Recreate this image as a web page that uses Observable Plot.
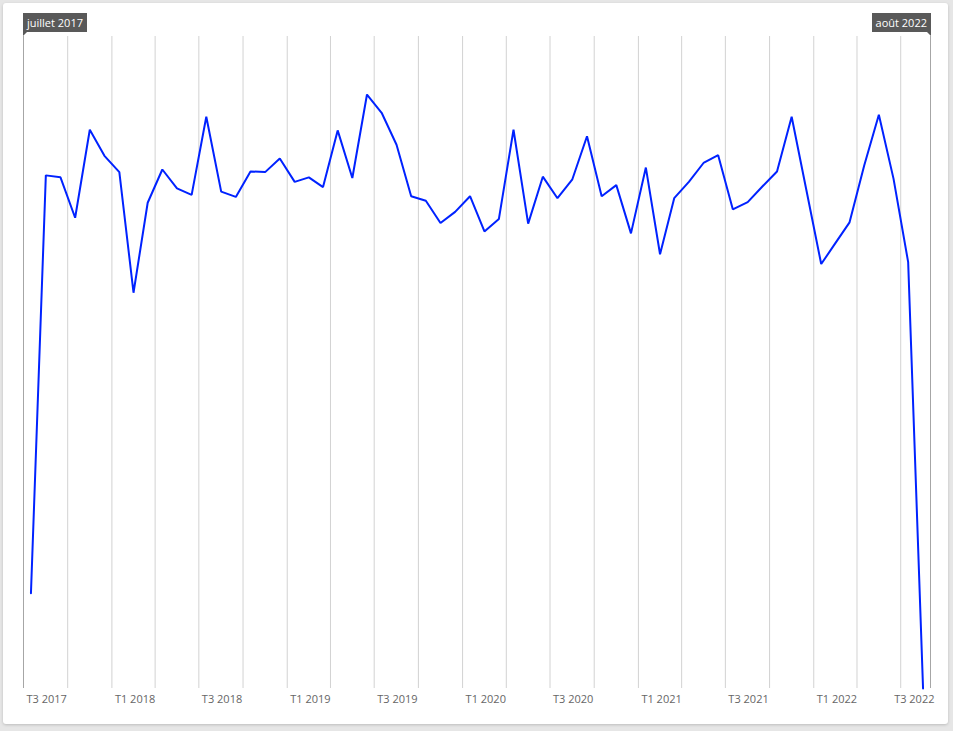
<!DOCTYPE html>
<html><head><meta charset="utf-8">
<script src="https://cdn.jsdelivr.net/npm/d3@7"></script>
<script src="https://cdn.jsdelivr.net/npm/@observablehq/plot@0.6"></script>
<style>
html,body{margin:0;padding:0;background:#e6e6e6;width:953px;height:731px;overflow:hidden;font-family:"Open Sans",sans-serif}
#card{position:absolute;left:3px;top:3px;width:945px;height:721px;background:#fff;border-radius:3px;box-shadow:0 1px 3px rgba(0,0,0,0.18)}
#chart{position:absolute;left:0;top:0}
.badge{position:absolute;top:13px;height:19px;line-height:19px;padding:0 4px;background:#595959;color:#fff;font-size:11px;white-space:nowrap}
.badge::after{content:"";position:absolute;top:19px;width:0;height:0;border-top:4px solid #595959}
.badge.left::after{left:0;border-right:4px solid transparent}
.badge.right::after{right:0;border-left:4px solid transparent}
</style>
</head><body>
<div id="card"></div>
<div id="chart"></div>
<script>
// Monthly series, July 2017 – August 2022
const startMonth = "2017-07-01";
const endMonth = "2022-09-01"; // exclusive end of domain
const values = [
  14.6, 78.7, 78.4, 72.2, 85.7, 81.7,
  79.2, 60.7, 74.5, 79.6, 76.7, 75.7,
  87.7, 76.2, 75.4, 79.3, 79.2, 81.3,
  77.7, 78.4, 76.9, 85.6, 78.3, 91.1,
  88.3, 83.4, 75.5, 74.8, 71.4, 73.1,
  75.5, 70.1, 72.0, 85.7, 71.3, 78.5,
  75.2, 78.1, 84.7, 75.5, 77.2, 69.8,
  79.9, 66.6, 75.2, 77.7, 80.6, 81.8,
  73.5, 74.6, 77.0, 79.3, 87.7, 76.5,
  65.1, 68.3, 71.5, 80.2, 88.0, 78.2,
  65.4, 0
];
const tickDates = ["2017-07-01","2018-01-01","2018-07-01","2019-01-01","2019-07-01","2020-01-01","2020-07-01","2021-01-01","2021-07-01","2022-01-01","2022-07-01"];
const tickLabels = ["T3 2017","T1 2018","T3 2018","T1 2019","T3 2019","T1 2020","T3 2020","T1 2021","T3 2021","T1 2022","T3 2022"];
const startLabel = "juillet 2017";
const endLabel = "août 2022";

const start = new Date(startMonth + "T00:00:00Z");
const end = new Date(endMonth + "T00:00:00Z");
const months = d3.utcMonth.range(start, end);
const data = months.map((m, i) => ({
  date: new Date((+m + +d3.utcMonth.offset(m, 1)) / 2),
  value: values[i]
}));
const quarters = d3.utcMonth.every(3).range(start, end).filter(d => +d > +start);
const ticks = tickDates.map((d, i) => ({date: new Date(d + "T00:00:00Z"), label: tickLabels[i]}));

const plot = Plot.plot({
  width: 953,
  height: 731,
  marginLeft: 23,
  marginRight: 23,
  marginTop: 36,
  marginBottom: 43,
  style: {background: "transparent", fontFamily: "'Open Sans', sans-serif"},
  x: {type: "utc", domain: [start, end], axis: null},
  y: {domain: [0, 100], axis: null},
  marks: [
    Plot.ruleX(quarters, {stroke: "#d2d2d2", strokeWidth: 1}),
    Plot.ruleX([start, end], {stroke: "#a6a6a6", strokeWidth: 1}),
    Plot.line(data, {x: "date", y: "value", stroke: "#0022ff", strokeWidth: 2, strokeLinejoin: "miter"}),
    Plot.text(ticks.slice(0, -1), {x: "date", text: "label", frameAnchor: "bottom", dy: 14, dx: 3, textAnchor: "start", fill: "#666666", fontSize: 11}),
    Plot.text(ticks.slice(-1), {x: () => end, text: "label", frameAnchor: "bottom", dy: 14, dx: 4, textAnchor: "end", fill: "#666666", fontSize: 11})
  ]
});
document.getElementById("chart").appendChild(plot);

const sx = plot.scale("x");
const b1 = document.createElement("div");
b1.className = "badge left";
b1.textContent = startLabel;
b1.style.left = sx.apply(start) + "px";
document.body.appendChild(b1);
const b2 = document.createElement("div");
b2.className = "badge right";
b2.textContent = endLabel;
b2.style.right = (953 - sx.apply(end) - 1) + "px";
document.body.appendChild(b2);
</script>
</body></html>
